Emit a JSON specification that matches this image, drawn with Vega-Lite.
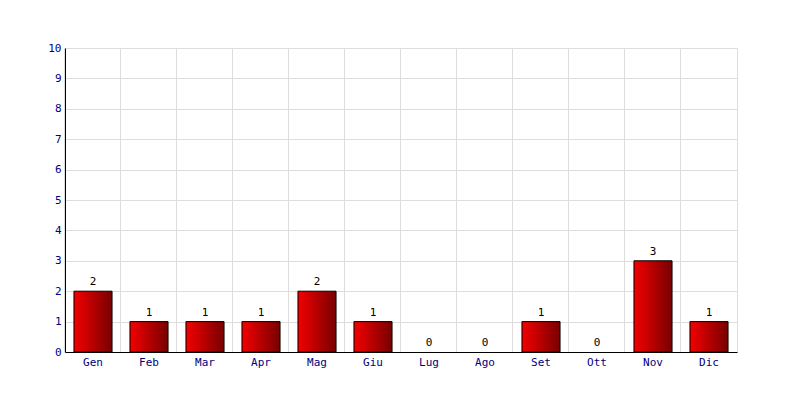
{
  "$schema": "https://vega.github.io/schema/vega-lite/v6.json",
  "autosize": "none",
  "width": 672,
  "height": 304,
  "padding": {"left": 65, "top": 48, "right": 63, "bottom": 48},
  "background": "white",
  "config": {
    "view": {"stroke": "#dddddd", "strokeWidth": 1},
    "font": "DejaVu Sans Mono"
  },
  "data": {
    "values": [
      {"mese": "Gen", "n": 2},
      {"mese": "Feb", "n": 1},
      {"mese": "Mar", "n": 1},
      {"mese": "Apr", "n": 1},
      {"mese": "Mag", "n": 2},
      {"mese": "Giu", "n": 1},
      {"mese": "Lug", "n": 0},
      {"mese": "Ago", "n": 0},
      {"mese": "Set", "n": 1},
      {"mese": "Ott", "n": 0},
      {"mese": "Nov", "n": 3},
      {"mese": "Dic", "n": 1}
    ]
  },
  "encoding": {
    "x": {
      "field": "mese", "type": "nominal",
      "sort": ["Gen", "Feb", "Mar", "Apr", "Mag", "Giu", "Lug", "Ago", "Set", "Ott", "Nov", "Dic"],
      "scale": {"paddingInner": 0.32, "paddingOuter": 0.16},
      "axis": {
        "title": null, "labelAngle": 0, "labelColor": "#000080",
        "labelFont": "DejaVu Sans Mono", "labelFontSize": 11,
        "domainColor": "#000000", "ticks": false, "labelPadding": 4,
        "grid": true, "gridColor": "#dddddd", "bandPosition": -0.2353
      }
    },
    "y": {
      "field": "n", "type": "quantitative",
      "scale": {"domain": [0, 10], "nice": false},
      "axis": {
        "title": null, "values": [0,1,2,3,4,5,6,7,8,9,10],
        "labelColor": "#000080", "labelFont": "DejaVu Sans Mono", "labelFontSize": 11,
        "domainColor": "#000000", "ticks": false, "labelPadding": 4,
        "grid": true, "gridColor": "#dddddd"
      }
    }
  },
  "layer": [
    {
      "transform": [{"filter": "datum.n > 0"}],
      "mark": {
        "type": "bar",
        "stroke": "#000000",
        "strokeWidth": 1,
        "color": {
          "gradient": "linear", "x1": 0, "y1": 0, "x2": 1, "y2": 0,
          "stops": [
            {"offset": 0, "color": "#f40000"},
            {"offset": 1, "color": "#780000"}
          ]
        }
      }
    },
    {
      "mark": {"type": "text", "dy": -6, "color": "#000000", "font": "DejaVu Sans Mono", "fontSize": 11, "baseline": "alphabetic"},
      "encoding": {"text": {"field": "n", "type": "quantitative"}}
    }
  ]
}
